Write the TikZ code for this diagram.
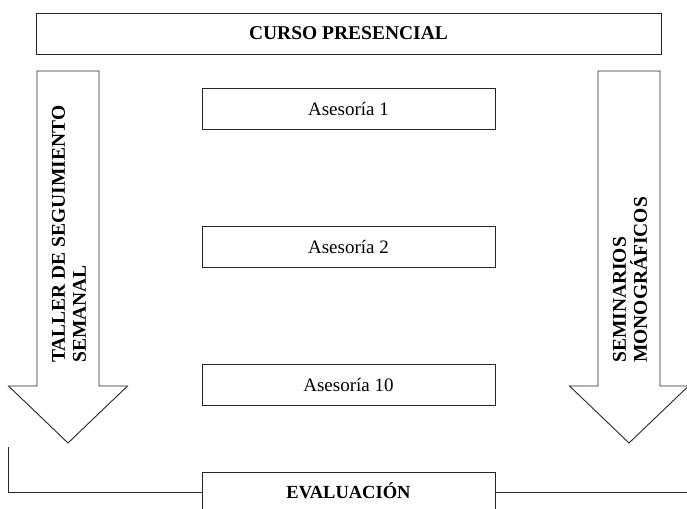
\documentclass[tikz,border=0pt]{standalone}
\usepackage{fontspec}
\setmainfont{Liberation Serif}
\usetikzlibrary{positioning}

\begin{document}
\begin{tikzpicture}[x=1pt, y=-1pt, node distance=138pt, on grid,
    caja/.style={draw=black!85, line width=0.9pt, minimum height=41pt, inner sep=0pt},
    titulo/.style={font=\fontsize{19.5}{22}\selectfont\bfseries},
    texto/.style={font=\fontsize{19}{22}\selectfont},
    flecha/.style={draw=black!85, line width=0.9pt, line join=miter},
    vertical/.style={rotate=90, anchor=west, align=left, inner sep=0pt,
        font=\fontsize{19.5}{21}\selectfont\bfseries}]
    \clip (0,0) rectangle (687,508);
    \node[caja, titulo, minimum width=625pt] (curso) at (348.5,33.5) {CURSO PRESENCIAL};
    \node[caja, texto, minimum width=293pt] (ase_1) at (348.5,108.5) {Asesoría 1};
    \node[caja, texto, minimum width=293pt] (ase_2) [below= of ase_1] {Asesoría 2};
    \node[caja, texto, minimum width=293pt] (ase_10) [below= of ase_2] {Asesoría 10};
    \node[caja, titulo, font=\fontsize{18.5}{22}\selectfont\bfseries, minimum width=293pt,
        minimum height=40pt, text height=12.5pt, text depth=0pt] (eval) at (348.5,492) {EVALUACIÓN};

    % flechas laterales
    \draw[flecha] (37,71) -- (99,71) -- (99,386) -- (127.5,386) -- (68,443)
        -- (8.5,386) -- (37,386) -- cycle;
    \draw[flecha] (598,71) -- (660,71) -- (660,386) -- (688.5,386) -- (629,443)
        -- (569.5,386) -- (598,386) -- cycle;
    \node[vertical] (taller) at (69,363) {TALLER DE SEGUIMIENTO\\SEMANAL};
    \node[vertical] (seminarios) at (630,363) {SEMINARIOS\\MONOGRÁFICOS};

    % cierre inferior
    \coordinate (esq_izq) at (8.5,447);
    \coordinate (esq_der) at (690,492);
    \draw[flecha] (esq_izq) |- (eval.west);
    \draw[flecha] (eval.east) -- (esq_der);
\end{tikzpicture}
\end{document}
